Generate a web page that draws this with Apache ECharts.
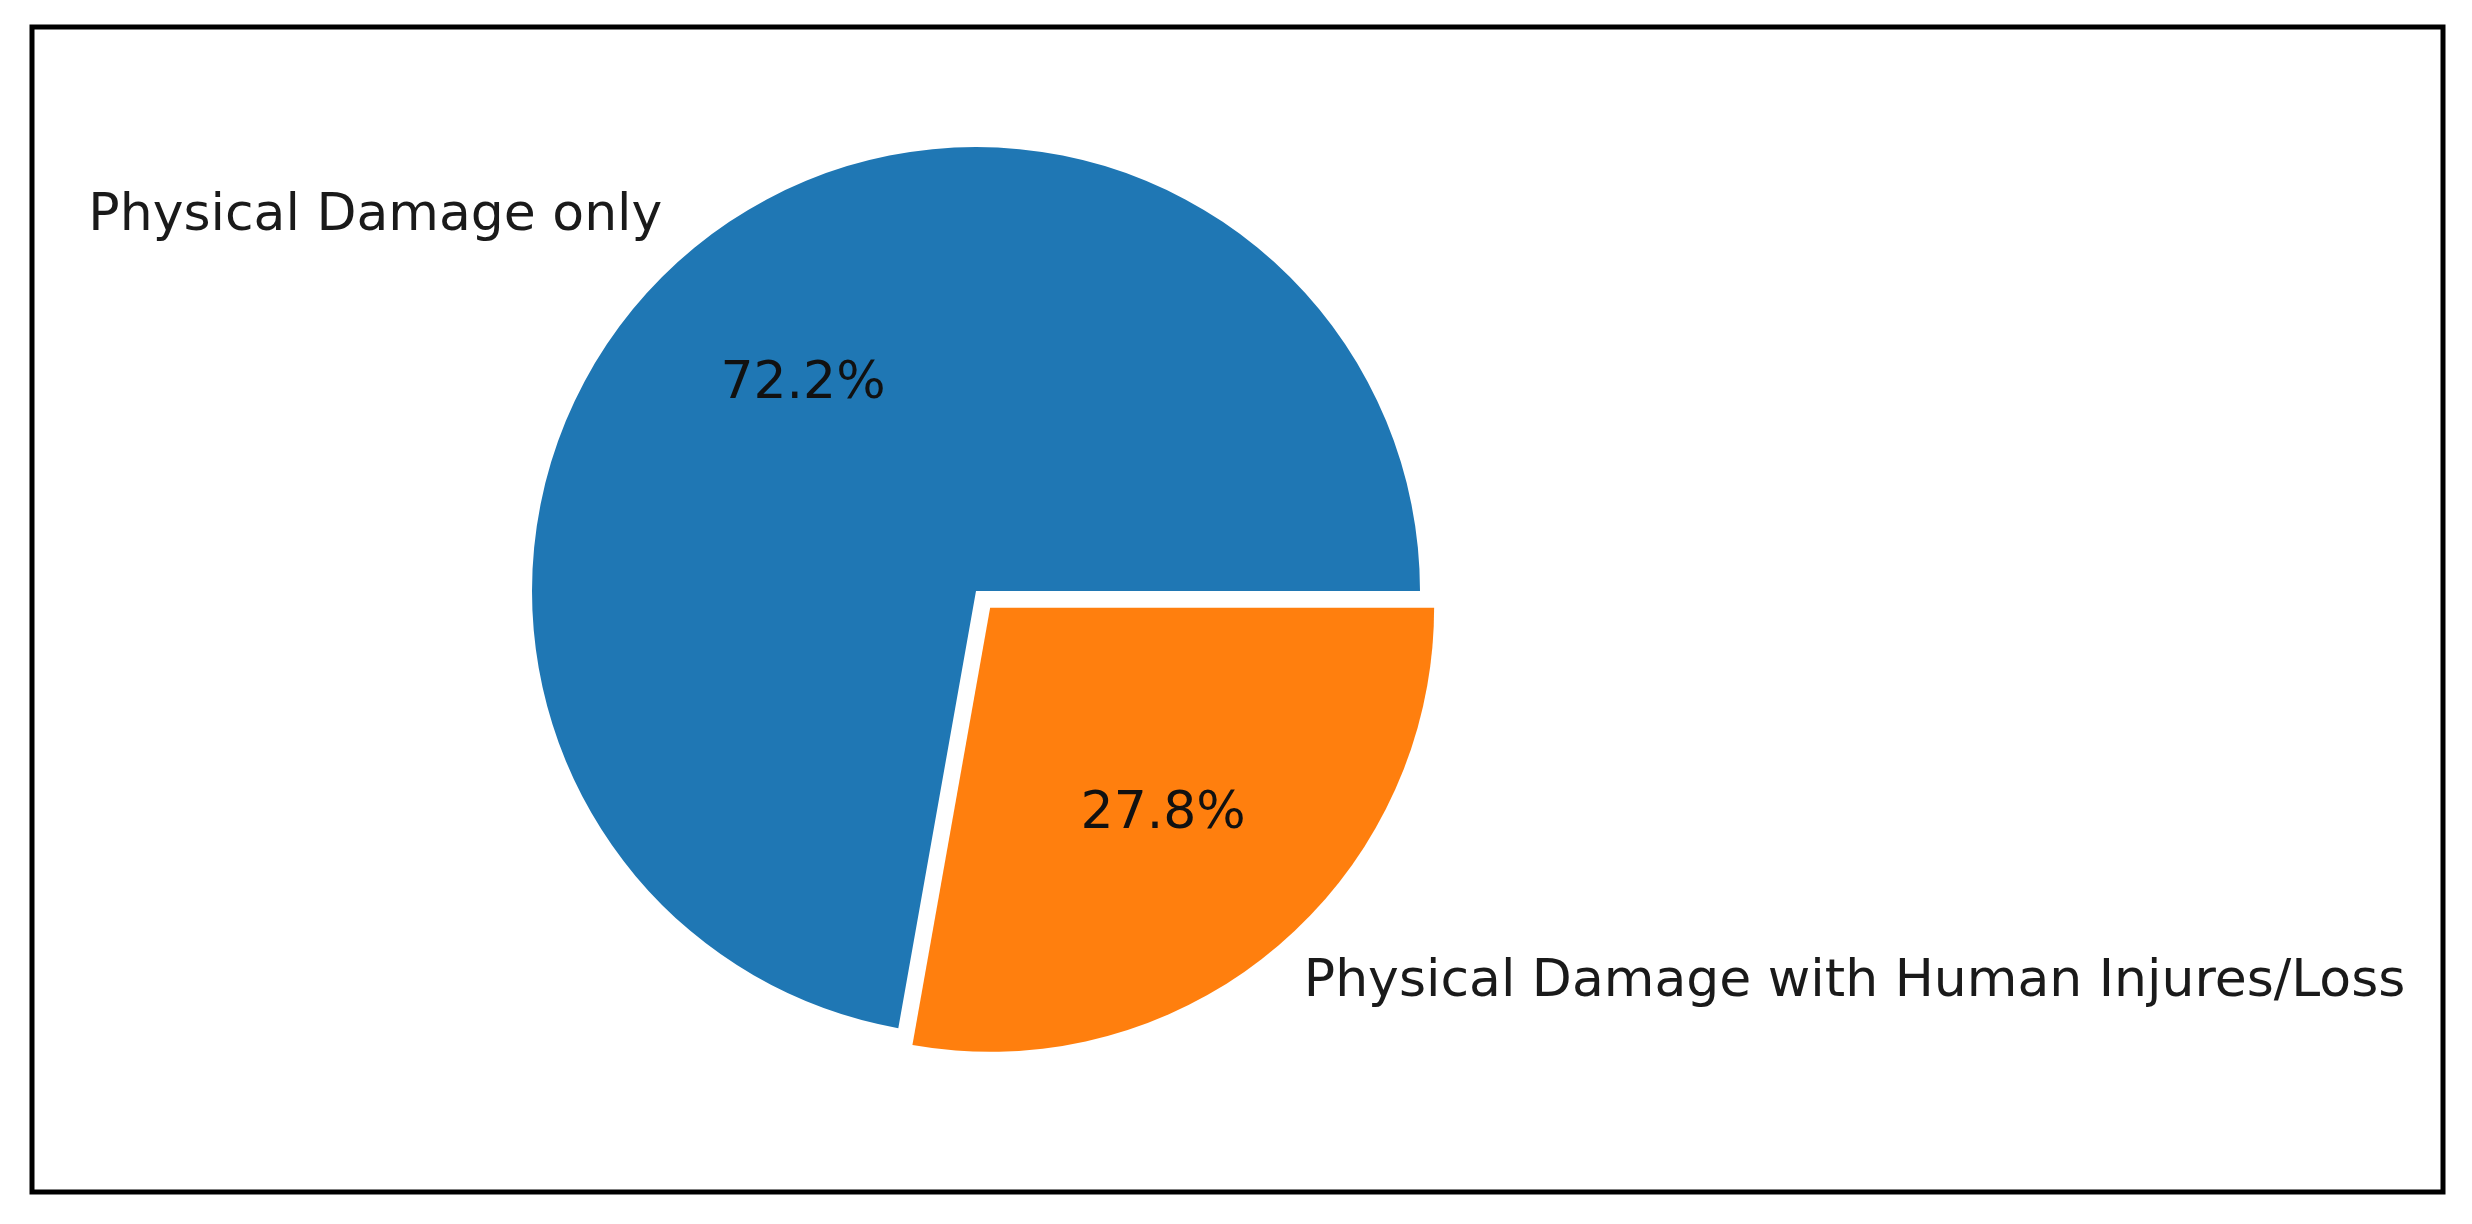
<!DOCTYPE html>
<html lang="en">
<head>
    <meta charset="utf-8">
    <title>Physical Damage pie</title>
    <script src="https://cdn.jsdelivr.net/npm/echarts@6/dist/echarts.min.js"></script>
    <style>
        html, body { margin: 0; padding: 0; background: #fff; }
        #main { width: 2472px; height: 1224px; }
    </style>
</head>
<body>
<div id="main"></div>
<script type="text/javascript">
    // data
    var categories = ['Physical Damage only', 'Physical Damage with Human Injures/Loss'];
    var shares = [72.2, 27.8];
    var colors = ['#1f77b4', '#ff7f0e'];
    var exploded = [false, true];

    var R = 444;              // pie radius, px
    var CX = 976, CY = 591;   // pie centre
    var FONT = 'DejaVu Sans';

    var chart = echarts.init(document.getElementById('main'));

    var mainData = [];
    var pctData = [];
    for (var i = 0; i < categories.length; i++) {
        mainData.push({
            name: categories[i],
            value: shares[i],
            selected: exploded[i],
            itemStyle: { color: colors[i] }
        });
        pctData.push({
            name: categories[i],
            value: shares[i],
            selected: exploded[i]
        });
    }

    var option = {
        animation: false,
        backgroundColor: '#ffffff',
        graphic: [{
            type: 'rect',
            shape: { x: 32, y: 27, width: 2411, height: 1165 },
            style: { fill: 'none', stroke: '#000', lineWidth: 5 },
            silent: true
        }],
        series: [
            {
                // wedges + names outside (at 1.1 r)
                type: 'pie',
                center: [CX, CY],
                radius: R,
                startAngle: 0,
                clockwise: false,
                selectedMode: 'single',
                selectedOffset: 22,
                avoidLabelOverlap: false,
                emphasis: { disabled: true },
                label: {
                    show: true,
                    position: 'outside',
                    formatter: '{b}',
                    fontFamily: FONT,
                    fontSize: 52,
                    color: '#1a1a1a',
                    distanceToLabelLine: 0
                },
                labelLine: { show: false, length: R * 0.1, length2: 0 },
                data: mainData
            },
            {
                // transparent copy so that inside labels sit at 0.6 r
                type: 'pie',
                center: [CX, CY],
                radius: [0, R * 1.2],
                startAngle: 0,
                clockwise: false,
                selectedMode: 'single',
                selectedOffset: 22,
                silent: true,
                z: 5,
                avoidLabelOverlap: false,
                itemStyle: { color: 'rgba(0,0,0,0)', borderWidth: 0 },
                label: {
                    show: true,
                    position: 'inside',
                    formatter: function (p) { return p.value.toFixed(1) + '%'; },
                    fontFamily: FONT,
                    fontSize: 52,
                    color: '#111',
                    textBorderWidth: 0
                },
                labelLine: { show: false },
                data: pctData
            }
        ]
    };
    chart.setOption(option);
</script>
</body>
</html>
